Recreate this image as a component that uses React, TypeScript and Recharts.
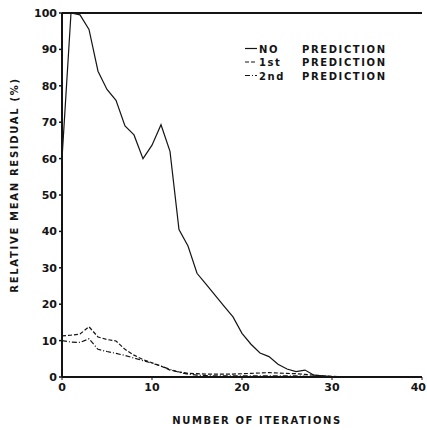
import { LineChart, Line, XAxis, YAxis, ReferenceLine } from "recharts"

const iterations = [
  0, 1, 2, 3, 4, 5, 6, 7, 8, 9, 10, 11, 12, 13, 14, 15, 16, 17, 18, 19, 20,
  21, 22, 23, 24, 25, 26, 27, 28, 29, 30, 31, 32, 33, 34, 35, 36, 37, 38, 39, 40,
]

const noPrediction = [
  60, 100, 99.5, 95.5, 84, 79, 76, 69, 66.5, 60, 63.7, 69.3, 62, 40.5, 36, 28.5,
  25.5, 22.5, 19.5, 16.5, 12, 9, 6.6, 5.6, 3.5, 2.2, 1.5, 1.9, 0.5, 0.3, 0.1,
  0.1, 0.1, 0.1, 0, 0, 0, 0, 0, 0, 0,
]

const firstPrediction = [
  11.3, 11.5, 11.8, 13.8, 11, 10.3, 9.9, 7.6, 6, 4.8, 3.9, 3, 1.9, 1.4, 1, 0.9,
  0.8, 0.8, 0.8, 0.8, 0.9, 1, 1.1, 1.2, 1.1, 1, 0.9, 0.7, 0.5, 0.3, 0.2,
  0.1, 0.1, 0.1, 0.1, 0.1, 0, 0, 0, 0, 0,
]

const secondPrediction = [
  10, 9.6, 9.5, 10.5, 7.6, 7, 6.5, 5.9, 5.2, 4.5, 3.8, 3, 2.1, 1.3, 0.8, 0.5,
  0.4, 0.3, 0.3, 0.3, 0.3, 0.3, 0.3, 0.3, 0.3, 0.3, 0.3, 0.2, 0.2, 0.1, 0.1,
  0.1, 0.1, 0, 0, 0, 0, 0, 0, 0, 0,
]

const xTicks = [0, 10, 20, 30, 40]
const yTicks = [0, 10, 20, 30, 40, 50, 60, 70, 80, 90, 100]

const legendItems = [
  { tag: "NO", dash: undefined },
  { tag: "1st", dash: "4 2" },
  { tag: "2nd", dash: "5 2 1 2" },
]

const data = iterations.map((it, i) => ({
  iter: it,
  none: noPrediction[i],
  first: firstPrediction[i],
  second: secondPrediction[i],
}))

const ink = "#141414"
const font = "'DejaVu Sans', sans-serif"
const tickStyle = { fontFamily: font, fontWeight: "bold", fontSize: 11, fill: ink }

// keep the last x label inside the picture
function XTick(props: any) {
  const { x, y, payload } = props
  const last = payload.value === xTicks[xTicks.length - 1]
  return (
    <text
      x={last ? x + 4 : x}
      y={y}
      dy="0.71em"
      textAnchor={last ? "end" : "middle"}
      {...tickStyle}
    >
      {payload.value}
    </text>
  )
}

export default function App() {
  return (
    <div style={{ position: "absolute", left: 0, top: 0 }}>
      <LineChart width={427} height={430} data={data} margin={{ top: 13, right: 5, bottom: 0, left: 0 }}>
        <XAxis
          dataKey="iter"
          type="number"
          domain={[0, 40]}
          ticks={xTicks}
          height={53}
          tick={<XTick />}
          tickSize={3}
          tickMargin={3}
          axisLine={{ stroke: ink, strokeWidth: 2 }}
          tickLine={{ stroke: ink }}
          interval={0}
        />
        <YAxis
          yAxisId="left"
          type="number"
          domain={[0, 100]}
          ticks={yTicks}
          width={62}
          tick={tickStyle}
          tickSize={3}
          tickMargin={2}
          axisLine={{ stroke: ink, strokeWidth: 2 }}
          tickLine={{ stroke: ink, strokeWidth: 1.5 }}
          interval={0}
        />
        <YAxis
          yAxisId="right"
          orientation="right"
          type="number"
          domain={[0, 100]}
          ticks={yTicks}
          width={0}
          mirror
          tick={false}
          tickSize={3}
          axisLine={{ stroke: ink, strokeWidth: 1.5 }}
          tickLine={{ stroke: ink }}
        />
        <ReferenceLine yAxisId="left" y={100} stroke={ink} strokeWidth={2} />
        <Line
          yAxisId="left"
          dataKey="none"
          type="linear"
          stroke={ink}
          strokeWidth={1.2}
          dot={false}
          isAnimationActive={false}
        />
        <Line
          yAxisId="left"
          dataKey="first"
          type="linear"
          stroke={ink}
          strokeWidth={1.2}
          strokeDasharray="4 2"
          dot={false}
          isAnimationActive={false}
        />
        <Line
          yAxisId="left"
          dataKey="second"
          type="linear"
          stroke={ink}
          strokeWidth={1.2}
          strokeDasharray="5 2 1 2"
          dot={false}
          isAnimationActive={false}
        />
        {/* legend */}
        <g fontFamily={font} fontWeight="bold" fontSize={10} fill={ink} letterSpacing={1.6}>
          {legendItems.map((item, i) => (
            <g key={item.tag}>
              <line
                x1={245}
                x2={257}
                y1={48.5 + i * 13.5}
                y2={48.5 + i * 13.5}
                stroke={ink}
                strokeWidth={1.2}
                strokeDasharray={item.dash}
              />
              <text x={259} y={52.5 + i * 13.5}>{item.tag}</text>
              <text x={302} y={52.5 + i * 13.5}>PREDICTION</text>
            </g>
          ))}
        </g>
        {/* axis titles */}
        <text
          x={257}
          y={424}
          textAnchor="middle"
          fontFamily={font}
          fontWeight="bold"
          fontSize={10}
          letterSpacing={1.6}
          fill={ink}
        >
          NUMBER OF ITERATIONS
        </text>
        <text
          x={18}
          y={185}
          textAnchor="middle"
          transform="rotate(-90 18 185)"
          fontFamily={font}
          fontWeight="bold"
          fontSize={10}
          letterSpacing={1.7}
          fill={ink}
        >
          RELATIVE MEAN RESIDUAL (%)
        </text>
      </LineChart>
    </div>
  )
}
